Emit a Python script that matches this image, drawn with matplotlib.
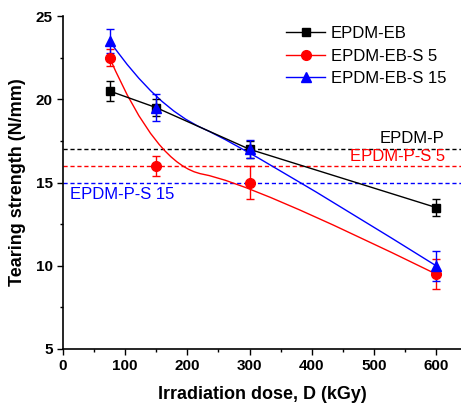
import numpy as np
import matplotlib.pyplot as plt
from matplotlib.path import Path
from matplotlib.patches import PathPatch
from matplotlib.ticker import MultipleLocator

plt.rcParams['font.family'] = ['Liberation Sans', 'DejaVu Sans']

# Data
dose = [75, 150, 300, 600]
eb = [20.5, 19.5, 17.0, 13.5]
eb_err = [0.6, 0.5, 0.5, 0.5]
s5 = [22.5, 16.0, 15.0, 9.5]
s5_err = [0.5, 0.6, 1.0, 0.9]
s15 = [23.5, 19.5, 17.0, 10.0]
s15_err = [0.7, 0.8, 0.55, 0.9]

ref_names = ['EPDM-P', 'EPDM-P-S 5', 'EPDM-P-S 15']
ref_values = [17.0, 16.0, 15.0]
ref_colors = ['black', 'red', 'blue']


def bspline_path(x, y):
    # quadratic B-spline (Origin style) using the data points as control points
    pts = list(zip(x, y))
    verts = [pts[0]]
    codes = [Path.MOVETO]
    for i in range(1, len(pts) - 2):
        mid = ((pts[i][0] + pts[i + 1][0]) / 2, (pts[i][1] + pts[i + 1][1]) / 2)
        verts += [pts[i], mid]
        codes += [Path.CURVE3, Path.CURVE3]
    verts += [pts[-2], pts[-1]]
    codes += [Path.CURVE3, Path.CURVE3]
    return Path(verts, codes)


fig = plt.figure(figsize=(4.61, 4.03), dpi=100)
ax = fig.add_axes([0.1367, 0.134, 0.8633, 0.826])

# reference dashed lines
for name, v, c in zip(ref_names, ref_values, ref_colors):
    ax.axhline(v, color=c, ls=(0, (3, 2)), lw=1, zorder=1)

ax.text(614, 17.22, 'EPDM-P', color='black', ha='right', va='bottom', fontsize=12)
ax.text(614, 16.12, 'EPDM-P-S 5', color='red', ha='right', va='bottom', fontsize=12)
ax.text(11, 14.75, 'EPDM-P-S 15', color='blue', ha='left', va='top', fontsize=12)

handles = []

# EPDM-EB: straight lines
ax.errorbar(dose, eb, yerr=eb_err, color='black', marker='s', ms=6, lw=1,
            capsize=3, elinewidth=1, zorder=3)
handles.append(ax.plot([], [], color='black', marker='s', ms=6, lw=1, label='EPDM-EB')[0])

# EPDM-EB-S 5 and S 15: smooth curves
for y, err, c, m, lab in [(s5, s5_err, 'red', 'o', 'EPDM-EB-S 5'),
                          (s15, s15_err, 'blue', '^', 'EPDM-EB-S 15')]:
    ax.add_patch(PathPatch(bspline_path(dose, y), fc='none', ec=c, lw=1, zorder=2))
    ax.errorbar(dose, y, yerr=err, color=c, marker=m, ms=7, ls='none',
                capsize=3, elinewidth=1, zorder=3)
    handles.append(ax.plot([], [], color=c, marker=m, ms=7, lw=1, label=lab)[0])

ax.set_xlim(0, 640)
ax.set_ylim(5, 25)
ax.xaxis.set_major_locator(MultipleLocator(100))
ax.xaxis.set_minor_locator(MultipleLocator(50))
ax.yaxis.set_major_locator(MultipleLocator(5))
ax.yaxis.set_minor_locator(MultipleLocator(2.5))
ax.tick_params(which='major', direction='out', length=4, width=1, labelsize=11)
ax.tick_params(which='minor', direction='out', length=2.5, width=1)
for lab in ax.get_xticklabels() + ax.get_yticklabels():
    lab.set_fontweight('bold')

ax.spines['top'].set_visible(False)
ax.spines['right'].set_visible(False)
ax.spines['left'].set_linewidth(1.2)
ax.spines['bottom'].set_linewidth(1.2)

ax.set_xlabel('Irradiation dose, D (kGy)', fontsize=13, fontweight='bold', labelpad=9)
ax.set_ylabel('Tearing strength (N/mm)', fontsize=13, fontweight='bold', labelpad=7)

ax.legend(handles=handles, loc='upper right', bbox_to_anchor=(1.0, 1.015),
          frameon=False, fontsize=12, handlelength=2.3, labelspacing=0.45,
          handletextpad=0.35)

fig.savefig('out.png', dpi=100)
